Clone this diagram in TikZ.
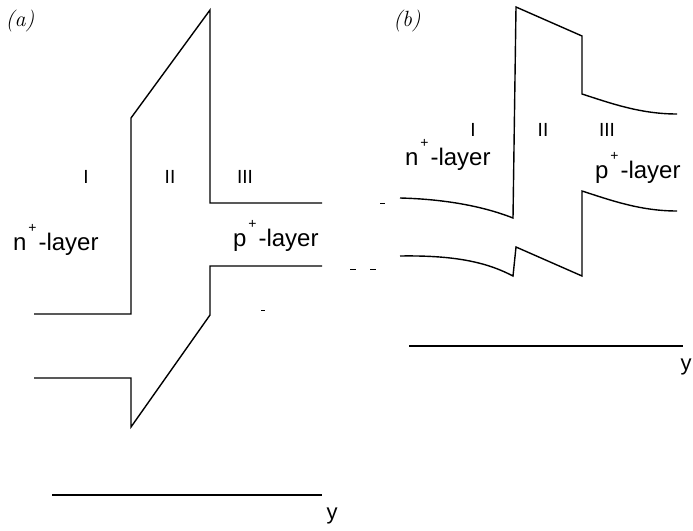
\documentclass[tikz,border=0pt]{standalone}
\usepackage{fontspec}
\setsansfont{Liberation Sans}
\newcommand\plusgap{\makebox[0.5em]{\raisebox{18pt}{\fontsize{14}{14}\selectfont +}}}
\begin{document}
\begin{tikzpicture}[x=1pt,y=-1pt,
  band/.style={line width=1.4pt, line join=miter},
  lbl/.style={font=\sffamily\fontsize{24}{24}\selectfont, inner sep=0pt, anchor=base west},
  yl/.style={font=\sffamily\fontsize{22}{22}\selectfont, inner sep=0pt},
  rom/.style={font=\sffamily\fontsize{19}{19}\selectfont, inner sep=0pt},
  tag/.style={font=\itshape\fontsize{22}{22}\selectfont, inner sep=0pt},
  tick/.style={line width=0.9pt}]
\useasboundingbox (0,0) rectangle (693,530);
% ---------- panel (a) ----------
\coordinate (a1) at (34,314); \coordinate (a2) at (131,314);
\coordinate (a3) at (131,118); \coordinate (a4) at (210,10);
\coordinate (a5) at (210,203); \coordinate (a6) at (322,203);
\draw[band] (a1) -- (a2) -- (a3) -- (a4) -- (a5) -- (a6);
\coordinate (v1) at (322,266); \coordinate (v2) at (210,266);
\coordinate (v3) at (210,315); \coordinate (v4) at (131,427);
\coordinate (v5) at (131,378); \coordinate (v6) at (34,378);
\draw[band] (v1) -- (v2) -- (v3) -- (v4) -- (v5) -- (v6);
\coordinate (ax1) at (52,495); \coordinate (ax2) at (322,495);
\draw[band] (ax1) -- (ax2);
\node[tag] (ta) at (20,21) {(a)};
\node[rom] (ra1) at (86,177) {I};
\node[rom] (ra2) at (170,177) {II};
\node[rom] (ra3) at (245,177) {III};
\node[lbl] (na) at (13,250) {n\plusgap-layer};
\node[lbl] (pa) at (233,246) {p\plusgap-layer};
\node[yl] (ya) at (332,516) {y};
\coordinate (t1a) at (261,310); \coordinate (t1b) at (265,310);
\draw[tick] (t1a) -- (t1b);
% ---------- stray dashes between panels ----------
\coordinate (t2a) at (380,203); \coordinate (t2b) at (385,203);
\coordinate (t3a) at (350,269); \coordinate (t3b) at (356,269);
\coordinate (t4a) at (370,269); \coordinate (t4b) at (376,269);
\draw[tick] (t2a) -- (t2b);
\draw[tick] (t3a) -- (t3b);
\draw[tick] (t4a) -- (t4b);
% ---------- panel (b) ----------
\coordinate (b1) at (400,198); \coordinate (b2) at (513,218);
\coordinate (b3) at (516,7); \coordinate (b4) at (582,36);
\coordinate (b5) at (582,94); \coordinate (b6) at (677,114);
\draw[band] (b1) .. controls (440,199) and (480,205) .. (b2) -- (b3) -- (b4) -- (b5)
  .. controls (610,103) and (640,114) .. (b6);
\coordinate (c1) at (400,256); \coordinate (c2) at (513,276);
\coordinate (c3) at (516,247); \coordinate (c4) at (582,276);
\coordinate (c5) at (582,191); \coordinate (c6) at (677,211);
\draw[band] (c1) .. controls (460,255) and (490,264) .. (c2) -- (c3) -- (c4) -- (c5)
  .. controls (610,200) and (640,211) .. (c6);
\coordinate (bx1) at (409,346); \coordinate (bx2) at (683,346);
\draw[band] (bx1) -- (bx2);
\node[tag] (tb) at (407,21) {(b)};
\node[rom] (rb1) at (473,130) {I};
\node[rom] (rb2) at (543,130) {II};
\node[rom] (rb3) at (607,130) {III};
\node[lbl] (nb) at (405,165) {n\plusgap-layer};
\node[lbl] (pb) at (595,178) {p\plusgap-layer};
\node[yl] (yb) at (686,367) {y};
\end{tikzpicture}
\end{document}
